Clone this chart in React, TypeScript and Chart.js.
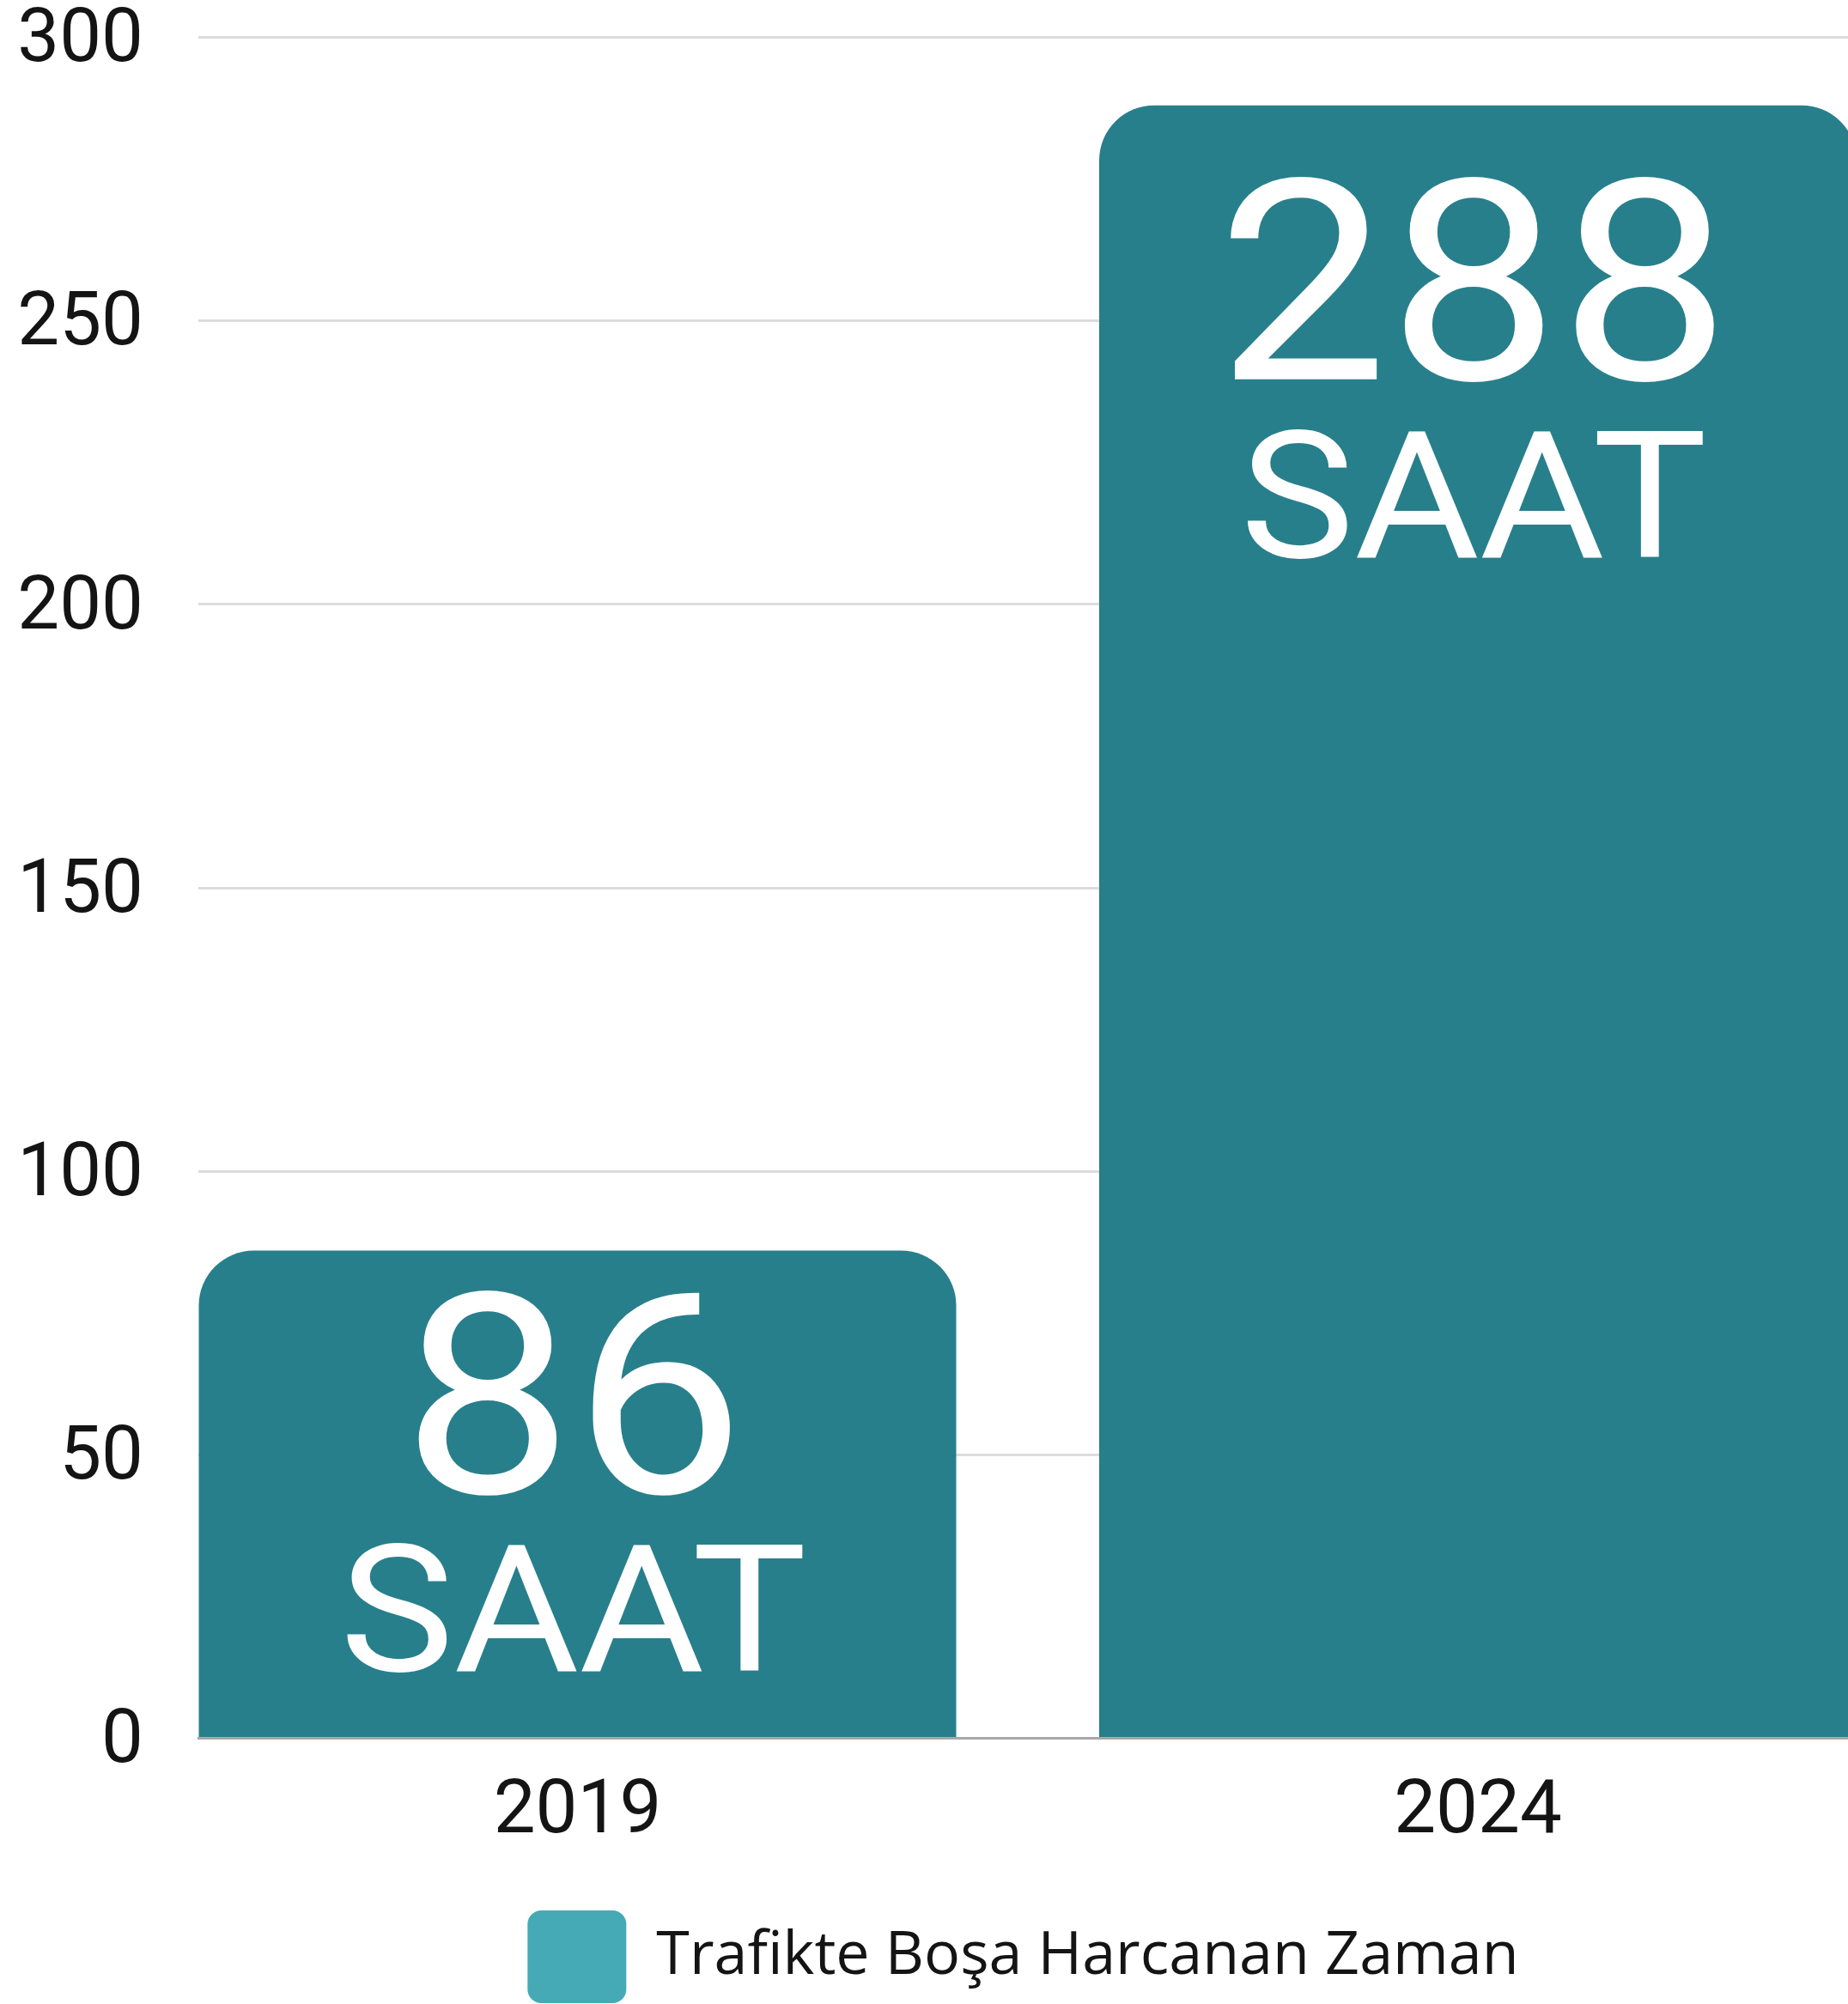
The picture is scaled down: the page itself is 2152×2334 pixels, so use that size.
import React, { useEffect, useRef } from 'react';
import { Chart, registerables } from 'chart.js';

Chart.register(...registerables);

// ---- data ----
const years = [2019, 2024];
const hours = [86, 288];
const unitLabel = 'SAAT';
const seriesLabel = 'Trafikte Boşa Harcanan Zaman';
const yTicks = [0, 50, 100, 150, 200, 250, 300];

// ---- styles ----
const BAR_COLOR = '#287f8c';
const LEGEND_COLOR = '#46aab6';
const TEXT_COLOR = '#141414';
const NUM_OFFSETS = [282, 319];
const UNIT_OFFSETS = [489, 526];
const LABEL_STRETCH = 1.085;

const valueLabels = {
  id: 'valueLabels',
  afterDatasetsDraw(chart: any) {
    const ctx = chart.ctx;
    const meta = chart.getDatasetMeta(0);
    meta.data.forEach((bar: any, i: number) => {
      const x = bar.x - 5;
      ctx.save();
      ctx.fillStyle = '#ffffff';
      ctx.textAlign = 'center';
      ctx.textBaseline = 'alphabetic';
      ctx.translate(x, bar.y + NUM_OFFSETS[i]);
      ctx.scale(LABEL_STRETCH, 1);
      ctx.font = '400 327px Roboto';
      ctx.fillText(String(hours[i]), 0, 0);
      ctx.restore();

      ctx.save();
      ctx.fillStyle = '#ffffff';
      ctx.textAlign = 'center';
      ctx.textBaseline = 'alphabetic';
      ctx.translate(x, bar.y + UNIT_OFFSETS[i]);
      ctx.scale(LABEL_STRETCH, 1);
      ctx.font = '400 206px Roboto';
      ctx.fillText(unitLabel, 0, 0);
      ctx.restore();
    });
  },
};

export default function App() {
  const ref = useRef<HTMLCanvasElement>(null);

  useEffect(() => {
    document.body.style.margin = '0';
    document.body.style.overflow = 'hidden';
    const chart = new Chart(ref.current as HTMLCanvasElement, {
      type: 'bar',
      data: {
        datasets: [
          {
            label: seriesLabel,
            data: years.map((y, i) => ({ x: y, y: hours[i] })),
            backgroundColor: BAR_COLOR,
            borderRadius: 64,
            borderSkipped: 'start',
            categoryPercentage: 1,
            barPercentage: 0.8412,
          },
        ],
      },
      options: {
        animation: false,
        responsive: true,
        maintainAspectRatio: false,
        layout: { padding: { top: 0, left: 0, right: 0, bottom: -9 } },
        scales: {
          x: {
            type: 'linear',
            offset: false,
            min: 2016.8946,
            max: 2026.0553,
            afterBuildTicks: (s: any) => {
              s.ticks = years.map((v) => ({ value: v }));
            },
            afterFit: (s: any) => {
              s.height = 200.5;
              s.paddingLeft = 0;
              s.paddingRight = 0;
            },
            ticks: {
              callback: (v: any) => String(v),
              font: { family: 'Roboto', size: 87, lineHeight: 1 },
              color: TEXT_COLOR,
              padding: 44,
              maxRotation: 0,
              autoSkip: false,
            },
            grid: { display: false, drawTicks: false, offset: false },
            border: { display: true, color: '#a8a8a8', width: 3 },
          },
          y: {
            min: 0,
            max: 300,
            afterBuildTicks: (s: any) => {
              s.ticks = yTicks.map((v) => ({ value: v }));
            },
            afterFit: (s: any) => {
              s.width = 231;
              s.paddingTop = 43.5;
              s.paddingBottom = 0;
            },
            ticks: {
              font: { family: 'Roboto', size: 87, lineHeight: 1 },
              color: TEXT_COLOR,
              padding: 64,
              labelOffset: 6,
            },
            grid: { color: '#dcdcdc', lineWidth: 3, drawTicks: false },
            border: { display: false },
          },
        },
        plugins: {
          legend: {
            position: 'bottom',
            fullSize: false,
            labels: {
              boxWidth: 115,
              boxHeight: 108,
              padding: 0,
              useBorderRadius: true,
              borderRadius: 16,
              color: TEXT_COLOR,
              font: { family: 'Open Sans', size: 70, weight: '500' },
              generateLabels: (c: any) =>
                Chart.defaults.plugins.legend.labels
                  .generateLabels(c)
                  .map((l: any) => ({ ...l, fillStyle: LEGEND_COLOR, strokeStyle: LEGEND_COLOR, lineWidth: 0 })),
            },
          },
          tooltip: { enabled: false },
        },
      },
      plugins: [valueLabels],
    } as any);
    return () => chart.destroy();
  }, []);

  return (
    <div style={{ position: 'relative', width: 2152, height: 2334 }}>
      <canvas ref={ref} />
    </div>
  );
}
